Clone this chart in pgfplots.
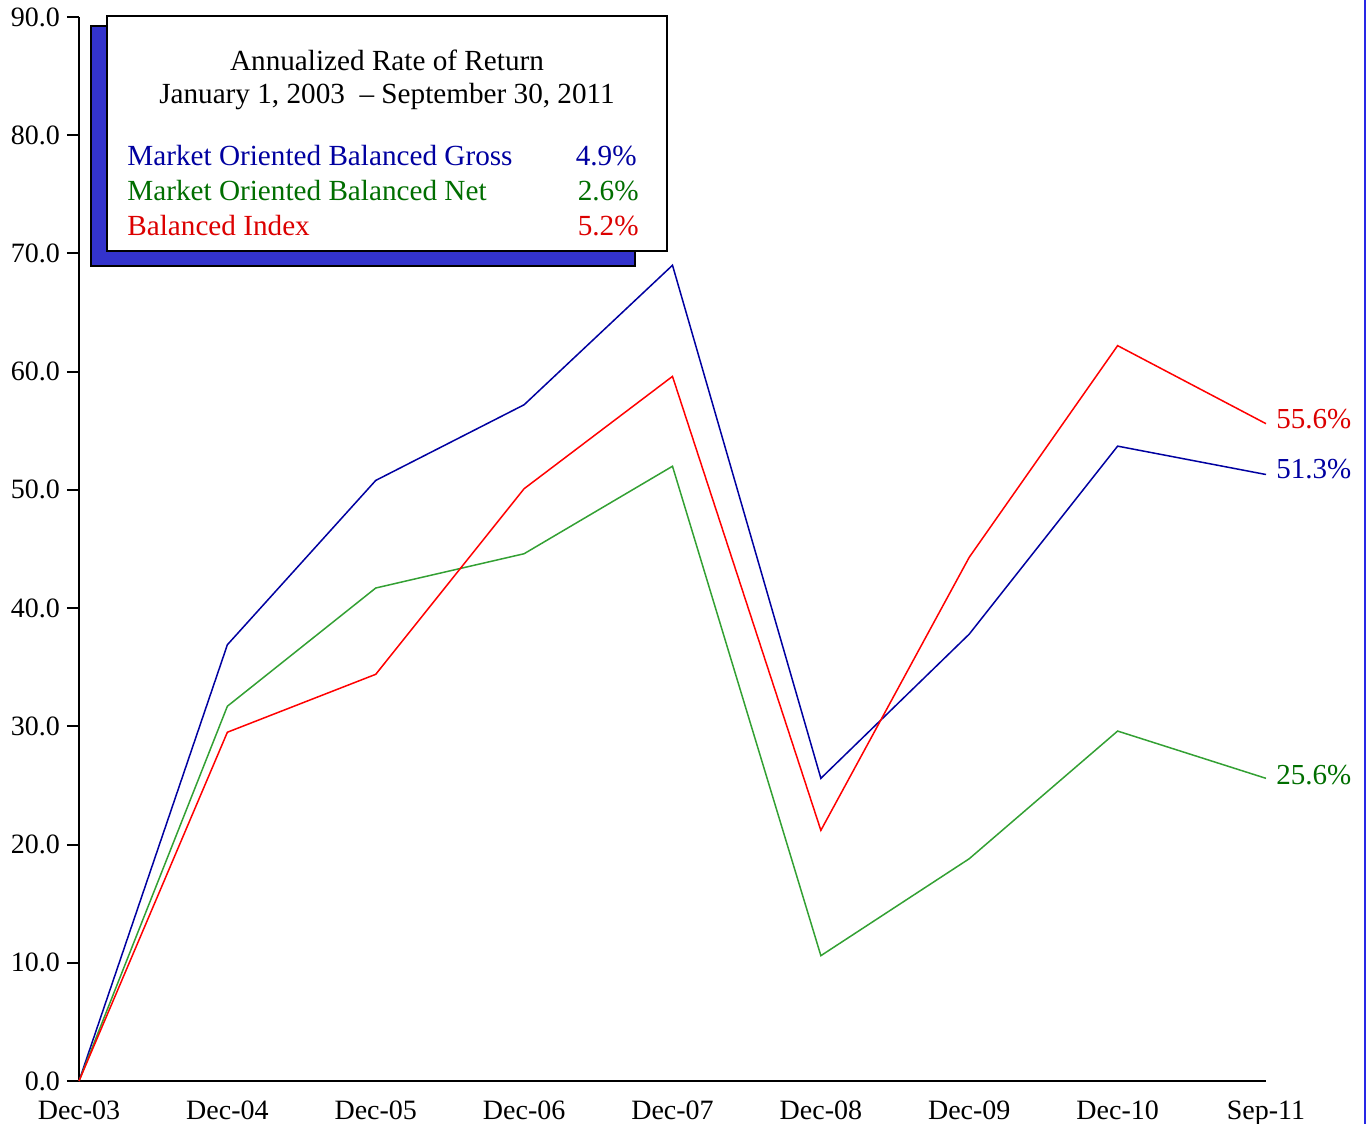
\documentclass[border=0pt]{standalone}
\usepackage{pgfplots}
\pgfplotsset{compat=1.18}
\usepackage{fontspec}
\setmainfont{Liberation Serif}
\definecolor{gross}{RGB}{0,0,160}
\definecolor{netline}{RGB}{51,160,51}
\definecolor{nettext}{RGB}{0,110,0}
\definecolor{idx}{RGB}{255,0,0}
\definecolor{idxtext}{RGB}{220,0,0}
\definecolor{shadow}{RGB}{51,51,204}
\begin{document}
\begin{tikzpicture}
\useasboundingbox (-39.5pt,-21.5pt) rectangle (643.5pt,540.5pt);
\begin{axis}[
  scale only axis,
  width=593.5pt, height=532pt,
  xmin=0, xmax=8, ymin=0, ymax=90,
  axis x line=bottom, axis y line=left,
  axis line style={-, line width=1pt, black},
  xtick={0,...,8},
  xticklabels={Dec-03,Dec-04,Dec-05,Dec-06,Dec-07,Dec-08,Dec-09,Dec-10,Sep-11},
  ytick={0,10,...,90},
  x tick style={draw=none},
  y tick style={line width=1pt, black},
  tick align=outside,
  major tick length=6pt,
  yticklabel style={/pgf/number format/fixed, /pgf/number format/fixed zerofill, /pgf/number format/precision=1, /pgf/number format/assume math mode=true},
  tick label style={font=\fontsize{14}{15}\selectfont},
  xticklabel style={yshift=-0.5pt},
  clip=false,
]
\addplot[gross, line width=0.75pt] coordinates {(0,0) (1,36.9) (2,50.8) (3,57.2) (4,69.0) (5,25.6) (6,37.8) (7,53.7) (8,51.3)};
\addplot[netline, line width=0.75pt] coordinates {(0,0) (1,31.7) (2,41.7) (3,44.6) (4,52.0) (5,10.6) (6,18.8) (7,29.6) (8,25.6)};
\addplot[idx, line width=0.75pt] coordinates {(0,0) (1,29.5) (2,34.4) (3,50.1) (4,59.6) (5,21.2) (6,44.3) (7,62.2) (8,55.6)};
\node[anchor=west, text=idxtext, font=\fontsize{14.5}{16}\selectfont, inner sep=0pt] at (axis cs:8,55.6) [xshift=5pt, yshift=2.5pt] {55.6\%};
\node[anchor=west, text=gross, font=\fontsize{14.5}{16}\selectfont, inner sep=0pt] at (axis cs:8,51.3) [xshift=5pt, yshift=2.5pt] {51.3\%};
\node[anchor=west, text=nettext, font=\fontsize{14.5}{16}\selectfont, inner sep=0pt] at (axis cs:8,25.6) [xshift=5pt, yshift=1.5pt] {25.6\%};
\end{axis}
% legend box with shadow
\fill[shadow, draw=black, line width=1pt] (6pt,407.5pt) rectangle (278pt,527.5pt);
\fill[white, draw=black, line width=1pt] (14pt,415pt) rectangle (294pt,532.5pt);
\node[font=\fontsize{14.6}{16}\selectfont] at (154pt,510.5pt) {Annualized Rate of Return};
\node[font=\fontsize{14.6}{16}\selectfont] at (154pt,492pt) {January 1, 2003\ \ -- September 30, 2011};
\node[anchor=west, inner sep=0pt, text=gross, font=\fontsize{14.6}{16}\selectfont] at (24pt,462.5pt) {Market Oriented Balanced Gross};
\node[anchor=west, inner sep=0pt, text=nettext, font=\fontsize{14.6}{16}\selectfont] at (24pt,445pt) {Market Oriented Balanced Net};
\node[anchor=west, inner sep=0pt, text=idxtext, font=\fontsize{14.6}{16}\selectfont] at (24pt,427.5pt) {Balanced Index};
\node[anchor=east, inner sep=0pt, text=gross, font=\fontsize{14.6}{16}\selectfont] at (279pt,462.5pt) {4.9\%};
\node[anchor=east, inner sep=0pt, text=nettext, font=\fontsize{14.6}{16}\selectfont] at (280pt,445pt) {2.6\%};
\node[anchor=east, inner sep=0pt, text=idxtext, font=\fontsize{14.6}{16}\selectfont] at (280pt,427.5pt) {5.2\%};
\draw[color={rgb,255:red,40;green,40;blue,230}, line width=1pt] (642.8pt,-21.5pt) -- (642.8pt,540.5pt);
\end{tikzpicture}
\end{document}
